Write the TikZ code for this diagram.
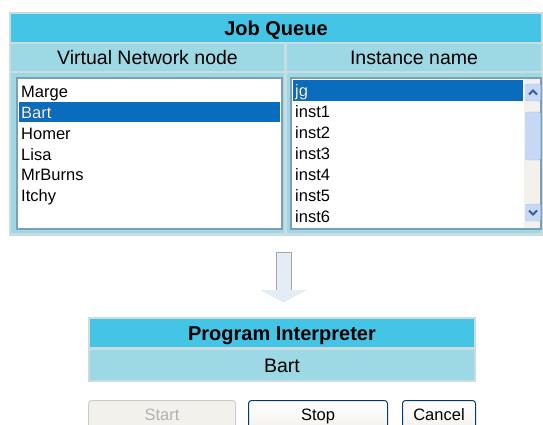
\documentclass[tikz,border=0pt]{standalone}
\usepackage{fontspec}
\setmainfont{Liberation Sans}
\usetikzlibrary{calc}
\definecolor{titlecyan}{HTML}{45C5E6}
\definecolor{headblue}{HTML}{9DD9E5}
\definecolor{rimgray}{HTML}{C9DDE0}
\definecolor{selblue}{HTML}{0A6CBC}
\definecolor{boxrim}{HTML}{7F9DB9}
\definecolor{scrollbg}{HTML}{F3F1EC}
\definecolor{scrollbtn}{HTML}{C6D8F5}
\definecolor{scrollrim}{HTML}{A9C2EE}
\definecolor{chevron}{HTML}{3C5A8A}
\definecolor{btnrim}{HTML}{003C74}
\definecolor{arrowfill}{HTML}{E4ECF5}
\tikzset{
  cell/.style={anchor=north west,inner sep=0pt,outer sep=0pt,fill=headblue,
    text height=15pt,text depth=0pt,font=\fontsize{19.5}{21}\selectfont},
  titlecell/.style={cell,fill=titlecyan,text height=14.5pt,
    font=\fontsize{20}{22}\selectfont\bfseries},
  listitem/.style={anchor=west,inner sep=0pt,text height=12pt,text depth=0pt,
    font=\fontsize{16.5}{18}\selectfont},
  btn/.style={draw=btnrim,line width=1pt,rounded corners=3pt,
    top color=white,bottom color=scrollbg,inner sep=0pt,
    text height=12pt,text depth=3pt,font=\fontsize{16.5}{18}\selectfont}
}

\begin{document}
\begin{tikzpicture}[x=1pt,y=-1pt]
  \useasboundingbox (0,0) rectangle (543,425);
  % job queue table
  \fill[rimgray] (9,12) rectangle (543,236);
  \node[titlecell,minimum width=530pt,minimum height=28pt] (jobtitle) at (11,14) {Job Queue};
  \node[cell,minimum width=273pt,minimum height=27pt] (vnhead) at (11,44) {Virtual Network node};
  \node[cell,minimum width=254pt,minimum height=27pt] (inhead) at (287,44) {Instance name};
  \node[cell,minimum width=273pt,minimum height=160pt] (vnbody) at (11,73) {};
  \node[cell,minimum width=254pt,minimum height=160pt] (inbody) at (287,73) {};
  % left list
  \draw[boxrim,line width=1.5pt,fill=white] (17,78) rectangle (282,229);
  \fill[selblue] (19,102) rectangle (280,122);
  \foreach \name [count=\i from 0] in {Marge,Bart,Homer,Lisa,MrBurns,Itchy} {
    \node[listitem] (vn\i) at (21,92+20.7*\i) {\name};
  }
  \node[listitem,text=white] at (vn1.west) {Bart};
  % right list
  \draw[boxrim,line width=1.5pt,fill=white] (291,78) rectangle (541,229);
  \fill[selblue] (293,80) rectangle (523,101);
  \fill[scrollbg] (524,79) rectangle (540,228);
  \foreach \name [count=\i from 0] in {jg,inst1,inst2,inst3,inst4,inst5,inst6} {
    \node[listitem] (in\i) at (295,91+20.9*\i) {\name};
  }
  \node[listitem,text=white] at (in0.west) {jg};
  % scroll bar
  \draw[scrollrim,fill=scrollbtn,rounded corners=2pt] (525.5,84) rectangle (540.5,101) coordinate[pos=.5] (upbtn);
  \draw[scrollrim,fill=scrollbtn,rounded corners=2pt] (525.5,112) rectangle (540.5,160) coordinate[pos=.5] (thumb);
  \draw[scrollrim,fill=scrollbtn,rounded corners=2pt] (525.5,204) rectangle (540.5,221) coordinate[pos=.5] (downbtn);
  \draw[chevron,line width=2pt] ($(upbtn)+(-4,2)$) -- ++(4,-4) -- ++(4,4);
  \draw[chevron,line width=2pt] ($(downbtn)+(-4,-2)$) -- ++(4,4) -- ++(4,-4);
  \foreach \d in {-2.5,0,2.5}
    \draw[white!60!boxrim] ($(thumb)+(-3,\d)$) -- ++(6,0);
  % arrow
  \coordinate (arrtop) at (283.5,252);
  \coordinate (arrtip) at (283.5,302);
  \fill[arrowfill] ($(arrtop)+(-7.5,0)$) -- ++(0,38) -- ++(-15,0) -- (arrtip)
    -- ++(22.5,-12) -- ++(-15,0) -- ++(0,-38) -- cycle;
  \draw[gray!70,line width=1pt] ($(arrtop)+(-7.5,38)$) -- ++(0,-38) -- ++(15,0) -- ++(0,38);
  \draw[gray!45,densely dotted] ($(arrtop)+(-22.5,38)$) -- (arrtip) -- ++(22.5,-12);
  % program interpreter
  \fill[rimgray] (88,317) rectangle (476,382);
  \node[titlecell,minimum width=384pt,minimum height=28pt] (pititle) at (90,319) {Program Interpreter};
  \node[cell,minimum width=384pt,minimum height=30pt] (pibart) at (90,350) {Bart};
  % buttons
  \node[btn,draw=gray!40,top color=scrollbg,bottom color=scrollbg,text=gray!60,
    anchor=north west,minimum width=147pt,minimum height=30pt] (startbtn) at (88,400) {Start};
  \node[btn,anchor=north west,minimum width=139pt,minimum height=30pt] (stopbtn) at (248,400) {Stop};
  \node[btn,anchor=north west,minimum width=73pt,minimum height=30pt] (cancelbtn) at (402,400) {Cancel};
\end{tikzpicture}
\end{document}
